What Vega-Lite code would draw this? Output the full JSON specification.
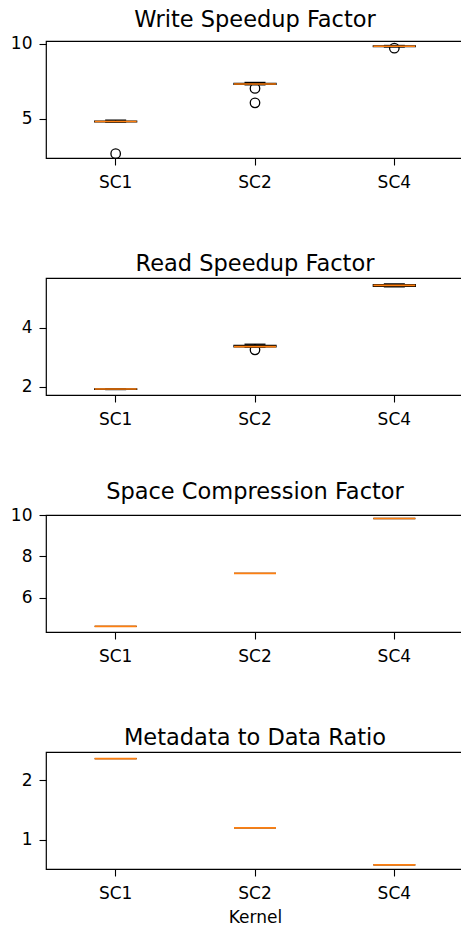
{
  "$schema": "https://vega.github.io/schema/vega-lite/v6.json",
  "padding": {"left": 0, "top": 8, "right": 0, "bottom": 0},
  "background": "white",
  "config": {
    "font": "DejaVu Sans",
    "view": {"stroke": "black", "strokeWidth": 1.2},
    "axis": {"grid": false, "domain": false, "tickColor": "black", "tickWidth": 1.1, "labelColor": "black", "labelFont": "DejaVu Sans", "labelFontSize": 17, "tickSize": 7, "labelPadding": 7, "titleFont": "DejaVu Sans", "titleFontWeight": "normal", "titleFontSize": 17, "titleColor": "black", "titlePadding": 4},
    "axisY": {"minExtent": 45, "maxExtent": 45},
    "axisX": {"labelAngle": 0, "labelPadding": 9, "titlePadding": 8},
    "title": {"fontSize": 22.5, "fontWeight": "normal", "color": "black", "font": "DejaVu Sans", "frame": "group", "anchor": "middle", "offset": 3}
  },
  "datasets": {
    "stats": [
      {"metric": "write", "kernel": "SC1", "lower": 4.76, "q1": 4.78, "median": 4.80, "q3": 4.83, "upper": 4.89},
      {"metric": "write", "kernel": "SC2", "lower": 7.26, "q1": 7.29, "median": 7.31, "q3": 7.35, "upper": 7.42},
      {"metric": "write", "kernel": "SC4", "lower": 9.80, "q1": 9.83, "median": 9.85, "q3": 9.87, "upper": 9.90},
      {"metric": "read", "kernel": "SC1", "lower": 1.90, "q1": 1.905, "median": 1.92, "q3": 1.925, "upper": 1.93},
      {"metric": "read", "kernel": "SC2", "lower": 3.34, "q1": 3.35, "median": 3.36, "q3": 3.40, "upper": 3.44},
      {"metric": "read", "kernel": "SC4", "lower": 5.39, "q1": 5.41, "median": 5.44, "q3": 5.46, "upper": 5.49},
      {"metric": "space", "kernel": "SC1", "lower": 4.62, "q1": 4.62, "median": 4.62, "q3": 4.62, "upper": 4.62},
      {"metric": "space", "kernel": "SC2", "lower": 7.18, "q1": 7.18, "median": 7.18, "q3": 7.18, "upper": 7.18},
      {"metric": "space", "kernel": "SC4", "lower": 9.83, "q1": 9.83, "median": 9.83, "q3": 9.83, "upper": 9.83},
      {"metric": "meta", "kernel": "SC1", "lower": 2.36, "q1": 2.36, "median": 2.36, "q3": 2.36, "upper": 2.36},
      {"metric": "meta", "kernel": "SC2", "lower": 1.20, "q1": 1.20, "median": 1.20, "q3": 1.20, "upper": 1.20},
      {"metric": "meta", "kernel": "SC4", "lower": 0.58, "q1": 0.58, "median": 0.58, "q3": 0.58, "upper": 0.58}
    ],
    "outliers": [
      {"metric": "write", "kernel": "SC1", "value": 2.64},
      {"metric": "write", "kernel": "SC2", "value": 7.02},
      {"metric": "write", "kernel": "SC2", "value": 6.05},
      {"metric": "write", "kernel": "SC4", "value": 9.72},
      {"metric": "read", "kernel": "SC2", "value": 3.25}
    ]
  },
  "spacing": 120,
  "bounds": "flush",
  "vconcat": [
    {
      "width": 418, "height": 117,
      "title": "Write Speedup Factor",
      "layer": [
        {"data": {"name": "stats"}, "transform": [{"filter": "datum.metric === 'write'"}], "mark": {"type": "rule", "color": "black", "strokeWidth": 1.3},
         "encoding": {"x": {"field": "kernel", "type": "nominal", "sort": ["SC1", "SC2", "SC4"], "scale": {"paddingInner": 0, "paddingOuter": 0}, "axis": {"title": null}},
                      "y": {"field": "lower", "type": "quantitative", "scale": {"domain": [2.35, 10.2], "nice": false, "zero": false}, "axis": {"values": [5, 10], "title": null}}, "y2": {"field": "upper"}}},
        {"data": {"name": "stats"}, "transform": [{"filter": "datum.metric === 'write'"}], "mark": {"type": "bar", "width": 42, "fill": "white", "stroke": "black", "strokeWidth": 1.3},
         "encoding": {"x": {"field": "kernel", "type": "nominal", "sort": ["SC1", "SC2", "SC4"]}, "y": {"field": "q1", "type": "quantitative"}, "y2": {"field": "q3"}}},
        {"data": {"name": "stats"}, "transform": [{"filter": "datum.metric === 'write'"}], "mark": {"type": "tick", "size": 21, "thickness": 1.3, "color": "black", "opacity": 1},
         "encoding": {"x": {"field": "kernel", "type": "nominal", "sort": ["SC1", "SC2", "SC4"]}, "y": {"field": "upper", "type": "quantitative"}}},
        {"data": {"name": "stats"}, "transform": [{"filter": "datum.metric === 'write'"}], "mark": {"type": "tick", "size": 21, "thickness": 1.3, "color": "black", "opacity": 1},
         "encoding": {"x": {"field": "kernel", "type": "nominal", "sort": ["SC1", "SC2", "SC4"]}, "y": {"field": "lower", "type": "quantitative"}}},
        {"data": {"name": "outliers"}, "transform": [{"filter": "datum.metric === 'write'"}], "mark": {"type": "point", "shape": "circle", "filled": false, "stroke": "black", "strokeWidth": 1.3, "size": 90, "opacity": 1},
         "encoding": {"x": {"field": "kernel", "type": "nominal", "sort": ["SC1", "SC2", "SC4"]}, "y": {"field": "value", "type": "quantitative"}}},
        {"data": {"name": "stats"}, "transform": [{"filter": "datum.metric === 'write'"}], "mark": {"type": "tick", "size": 42, "thickness": 1.6, "color": "#ff7f0e", "opacity": 1},
         "encoding": {"x": {"field": "kernel", "type": "nominal", "sort": ["SC1", "SC2", "SC4"]}, "y": {"field": "median", "type": "quantitative"}}}
      ]
    },
    {
      "width": 418, "height": 117,
      "title": "Read Speedup Factor",
      "layer": [
        {"data": {"name": "stats"}, "transform": [{"filter": "datum.metric === 'read'"}], "mark": {"type": "rule", "color": "black", "strokeWidth": 1.3},
         "encoding": {"x": {"field": "kernel", "type": "nominal", "sort": ["SC1", "SC2", "SC4"], "scale": {"paddingInner": 0, "paddingOuter": 0}, "axis": {"title": null}},
                      "y": {"field": "lower", "type": "quantitative", "scale": {"domain": [1.715, 5.69], "nice": false, "zero": false}, "axis": {"values": [2, 4], "title": null}}, "y2": {"field": "upper"}}},
        {"data": {"name": "stats"}, "transform": [{"filter": "datum.metric === 'read'"}], "mark": {"type": "bar", "width": 42, "fill": "white", "stroke": "black", "strokeWidth": 1.3},
         "encoding": {"x": {"field": "kernel", "type": "nominal", "sort": ["SC1", "SC2", "SC4"]}, "y": {"field": "q1", "type": "quantitative"}, "y2": {"field": "q3"}}},
        {"data": {"name": "stats"}, "transform": [{"filter": "datum.metric === 'read'"}], "mark": {"type": "tick", "size": 21, "thickness": 1.3, "color": "black", "opacity": 1},
         "encoding": {"x": {"field": "kernel", "type": "nominal", "sort": ["SC1", "SC2", "SC4"]}, "y": {"field": "upper", "type": "quantitative"}}},
        {"data": {"name": "stats"}, "transform": [{"filter": "datum.metric === 'read'"}], "mark": {"type": "tick", "size": 21, "thickness": 1.3, "color": "black", "opacity": 1},
         "encoding": {"x": {"field": "kernel", "type": "nominal", "sort": ["SC1", "SC2", "SC4"]}, "y": {"field": "lower", "type": "quantitative"}}},
        {"data": {"name": "outliers"}, "transform": [{"filter": "datum.metric === 'read'"}], "mark": {"type": "point", "shape": "circle", "filled": false, "stroke": "black", "strokeWidth": 1.3, "size": 90, "opacity": 1},
         "encoding": {"x": {"field": "kernel", "type": "nominal", "sort": ["SC1", "SC2", "SC4"]}, "y": {"field": "value", "type": "quantitative"}}},
        {"data": {"name": "stats"}, "transform": [{"filter": "datum.metric === 'read'"}], "mark": {"type": "tick", "size": 42, "thickness": 1.6, "color": "#ff7f0e", "opacity": 1},
         "encoding": {"x": {"field": "kernel", "type": "nominal", "sort": ["SC1", "SC2", "SC4"]}, "y": {"field": "median", "type": "quantitative"}}}
      ]
    },
    {
      "width": 418, "height": 117,
      "title": "Space Compression Factor",
      "layer": [
        {"data": {"name": "stats"}, "transform": [{"filter": "datum.metric === 'space'"}], "mark": {"type": "rule", "color": "black", "strokeWidth": 1.3},
         "encoding": {"x": {"field": "kernel", "type": "nominal", "sort": ["SC1", "SC2", "SC4"], "scale": {"paddingInner": 0, "paddingOuter": 0}, "axis": {"title": null}},
                      "y": {"field": "lower", "type": "quantitative", "scale": {"domain": [4.35, 10.0], "nice": false, "zero": false}, "axis": {"values": [6, 8, 10], "title": null}}, "y2": {"field": "upper"}}},
        {"data": {"name": "stats"}, "transform": [{"filter": "datum.metric === 'space'"}], "mark": {"type": "tick", "size": 42, "thickness": 1.3, "color": "black", "opacity": 1},
         "encoding": {"x": {"field": "kernel", "type": "nominal", "sort": ["SC1", "SC2", "SC4"]}, "y": {"field": "q1", "type": "quantitative"}}},
        {"data": {"name": "stats"}, "transform": [{"filter": "datum.metric === 'space'"}], "mark": {"type": "tick", "size": 42, "thickness": 1.7, "color": "#ff7f0e", "opacity": 1},
         "encoding": {"x": {"field": "kernel", "type": "nominal", "sort": ["SC1", "SC2", "SC4"]}, "y": {"field": "median", "type": "quantitative"}}}
      ]
    },
    {
      "width": 418, "height": 117,
      "title": "Metadata to Data Ratio",
      "layer": [
        {"data": {"name": "stats"}, "transform": [{"filter": "datum.metric === 'meta'"}], "mark": {"type": "rule", "color": "black", "strokeWidth": 1.3},
         "encoding": {"x": {"field": "kernel", "type": "nominal", "sort": ["SC1", "SC2", "SC4"], "scale": {"paddingInner": 0, "paddingOuter": 0}, "axis": {"title": "Kernel"}},
                      "y": {"field": "lower", "type": "quantitative", "scale": {"domain": [0.51, 2.47], "nice": false, "zero": false}, "axis": {"values": [1, 2], "format": "d", "title": null}}, "y2": {"field": "upper"}}},
        {"data": {"name": "stats"}, "transform": [{"filter": "datum.metric === 'meta'"}], "mark": {"type": "tick", "size": 42, "thickness": 1.3, "color": "black", "opacity": 1},
         "encoding": {"x": {"field": "kernel", "type": "nominal", "sort": ["SC1", "SC2", "SC4"]}, "y": {"field": "q1", "type": "quantitative"}}},
        {"data": {"name": "stats"}, "transform": [{"filter": "datum.metric === 'meta'"}], "mark": {"type": "tick", "size": 42, "thickness": 1.7, "color": "#ff7f0e", "opacity": 1},
         "encoding": {"x": {"field": "kernel", "type": "nominal", "sort": ["SC1", "SC2", "SC4"]}, "y": {"field": "median", "type": "quantitative"}}}
      ]
    }
  ]
}
